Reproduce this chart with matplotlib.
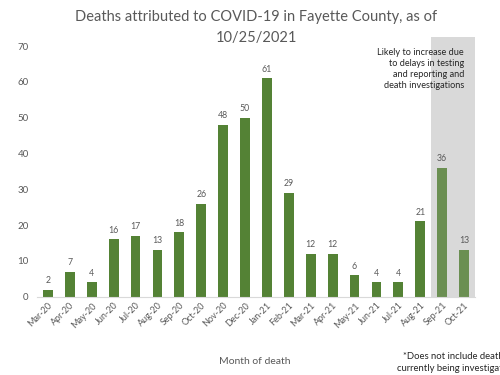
import matplotlib
matplotlib.use("Agg")
import matplotlib.pyplot as plt
import numpy as np

plt.rcParams['font.family'] = ['Lato', 'DejaVu Sans']

months = ['Mar-20', 'Apr-20', 'May-20', 'Jun-20', 'Jul-20', 'Aug-20', 'Sep-20',
          'Oct-20', 'Nov-20', 'Dec-20', 'Jan-21', 'Feb-21', 'Mar-21', 'Apr-21',
          'May-21', 'Jun-21', 'Jul-21', 'Aug-21', 'Sep-21', 'Oct-21']
deaths = [2, 7, 4, 16, 17, 13, 18, 26, 48, 50, 61, 29, 12, 12, 6, 4, 4, 21, 36, 13]
n_pending = 2  # last months likely to increase

grey = '#595959'
green = '#548235'
green_light = '#6b8f52'

W, H = 500, 375
fig = plt.figure(figsize=(5, 3.75), dpi=100)
ax = fig.add_axes([37 / W, 1 - 296.7 / H, (475 - 37) / W, (296.7 - 46) / H])

x = np.arange(len(months))
n = len(months)
colors = [green] * (n - n_pending) + [green_light] * n_pending

# shaded box behind the pending months, sticks out above the axes
ax.bar((n - n_pending - 0.5 + n - 0.5) / 2, 72.8, width=n_pending, bottom=-0.3,
       color='#d9d9d9', zorder=0, clip_on=False)

ax.bar(x, deaths, width=0.45, color=colors, zorder=2)
for i, v in enumerate(deaths):
    ax.text(i, v + 1.3, str(v), ha='center', va='bottom', fontsize=6.3, color=grey)

ax.set_xlim(-0.5, n - 0.5)
ax.set_ylim(0, 70)
ax.set_yticks(range(0, 71, 10))
ax.set_xticks(x)
ax.set_xticklabels(months, rotation=45, ha='right', rotation_mode='anchor')
ax.tick_params(axis='y', length=0, labelsize=7, colors=grey, pad=6)
ax.tick_params(axis='x', length=0, labelsize=6.5, colors=grey, pad=3)
for s in ['top', 'right', 'left']:
    ax.spines[s].set_visible(False)
ax.spines['bottom'].set_color('#d9d9d9')
ax.spines['bottom'].set_zorder(3)

fig.text(256 / W, 1 - 17 / H, 'Deaths attributed to COVID-19 in Fayette County, as of',
         ha='center', va='center', fontsize=10.5, color=grey)
fig.text(256 / W, 1 - 38 / H, '10/25/2021', ha='center', va='center', fontsize=10.5, color=grey)

fig.text(255 / W, 1 - 362 / H, 'Month of death', ha='center', va='center', fontsize=7.5, color=grey)

fig.text(464 / W, 1 - 48 / H,
         'Likely to increase due\nto delays in testing\nand reporting and\ndeath investigations',
         ha='right', va='top', fontsize=6.6, color='#262626', linespacing=1.3)

fig.text(455 / W, 1 - 362.5 / H,
         '*Does not include deaths\ncurrently being investigated',
         ha='center', va='center', multialignment='center',
         fontsize=6.8, color='#262626', linespacing=1.3)

fig.savefig('out.png', dpi=100)
